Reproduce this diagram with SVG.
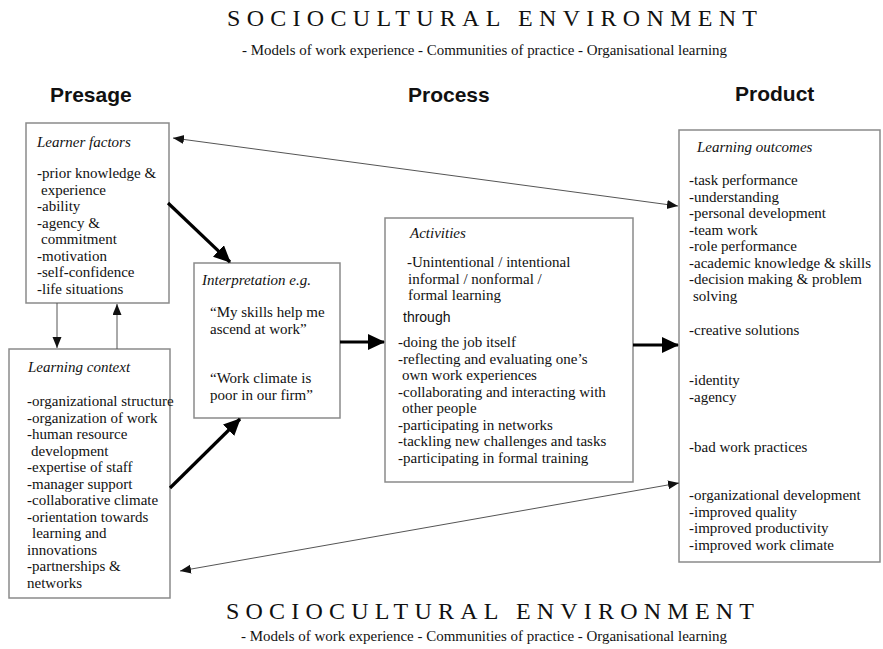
<svg xmlns="http://www.w3.org/2000/svg" width="883" height="649" viewBox="0 0 883 649">
<style>
.t{font-family:"Liberation Serif","Times New Roman",serif;font-size:15px;fill:#111}
.i{font-style:italic}
.h{font-family:"Liberation Sans",Arial,sans-serif;font-size:21px;font-weight:bold;fill:#111}
.s{font-family:"Liberation Sans",Arial,sans-serif;font-size:14px;fill:#111}
.ti{font-family:"Liberation Serif","Times New Roman",serif;font-size:24px;fill:#111}
.st{font-family:"Liberation Serif","Times New Roman",serif;font-size:14px;fill:#111}
.box{fill:#fff;stroke:#8a8a8a;stroke-width:1.5}
.thick{stroke:#000;stroke-width:3.2;fill:none;marker-end:url(#big)}
.thin{stroke:#555;stroke-width:1;fill:none;marker-end:url(#small);marker-start:url(#small)}
.vt{stroke:#555;stroke-width:1;fill:none;marker-end:url(#small)}
</style>
<defs>
<marker id="big" markerUnits="userSpaceOnUse" markerWidth="18" markerHeight="16" refX="16" refY="8" orient="auto">
<path d="M0,0 L17,8 L0,16 Z" fill="#000"/>
</marker>
<marker id="small" markerUnits="userSpaceOnUse" markerWidth="12" markerHeight="10" refX="11" refY="4.5" orient="auto-start-reverse">
<path d="M0,0 L11,4.5 L0,9 Z" fill="#111"/>
</marker>
</defs>

<g id="titles">
<text class="ti" x="227" y="26" textLength="530" lengthAdjust="spacing">SOCIOCULTURAL ENVIRONMENT</text>
<text class="st" x="242" y="55" textLength="485" lengthAdjust="spacingAndGlyphs">- Models of work experience - Communities of practice - Organisational learning</text>
<text class="h" x="50" y="102">Presage</text>
<text class="h" x="408" y="102">Process</text>
<text class="h" x="735" y="101">Product</text>
<text class="ti" x="226" y="619" textLength="528" lengthAdjust="spacing">SOCIOCULTURAL ENVIRONMENT</text>
<text class="st" x="241" y="641" textLength="486" lengthAdjust="spacingAndGlyphs">- Models of work experience - Communities of practice - Organisational learning</text>
</g>

<g id="learner-factors">
<rect class="box" x="26" y="123" width="143" height="180"/>
<text class="t i" x="37" y="147">Learner factors</text>
<text class="t" x="37" y="178">-prior knowledge &amp;</text>
<text class="t" x="41" y="194.5">experience</text>
<text class="t" x="37" y="211">-ability</text>
<text class="t" x="37" y="227.5">-agency &amp;</text>
<text class="t" x="41" y="244">commitment</text>
<text class="t" x="37" y="260.5">-motivation</text>
<text class="t" x="37" y="277">-self-confidence</text>
<text class="t" x="37" y="293.5">-life situations</text>
</g>

<g id="learning-context">
<rect class="box" x="9" y="349" width="161" height="249"/>
<text class="t i" x="28" y="372">Learning context</text>
<text class="t" x="27" y="406">-organizational structure</text>
<text class="t" x="27" y="422.5">-organization of work</text>
<text class="t" x="27" y="439">-human resource</text>
<text class="t" x="31" y="455.5">development</text>
<text class="t" x="27" y="472">-expertise of staff</text>
<text class="t" x="27" y="488.5">-manager support</text>
<text class="t" x="27" y="505">-collaborative climate</text>
<text class="t" x="27" y="521.5">-orientation towards</text>
<text class="t" x="32" y="538">learning and</text>
<text class="t" x="27" y="554.5">innovations</text>
<text class="t" x="27" y="571">-partnerships &amp;</text>
<text class="t" x="27" y="587.5">networks</text>
</g>

<g id="interpretation">
<rect class="box" x="194" y="263" width="146" height="155"/>
<text class="t i" x="202" y="285">Interpretation e.g.</text>
<text class="t" x="210" y="317">“My skills help me</text>
<text class="t" x="210" y="333.5">ascend at work”</text>
<text class="t" x="210" y="383">“Work climate is</text>
<text class="t" x="210" y="399.5">poor in our firm”</text>
</g>

<g id="activities">
<rect class="box" x="385" y="218" width="248" height="264"/>
<text class="t i" x="410" y="238">Activities</text>
<text class="t" x="407" y="267">-Unintentional / intentional</text>
<text class="t" x="408" y="283.5">informal / nonformal /</text>
<text class="t" x="408" y="300">formal learning</text>
<text class="s" x="403" y="322">through</text>
<text class="t" x="398" y="347">-doing the job itself</text>
<text class="t" x="398" y="363.5">-reflecting and evaluating one’s</text>
<text class="t" x="402" y="380">own work experiences</text>
<text class="t" x="398" y="396.5">-collaborating and interacting with</text>
<text class="t" x="402" y="413">other people</text>
<text class="t" x="398" y="429.5">-participating in networks</text>
<text class="t" x="398" y="446">-tackling new challenges and tasks</text>
<text class="t" x="398" y="462.5">-participating in formal training</text>
</g>

<g id="learning-outcomes">
<rect class="box" x="679" y="130" width="201" height="432"/>
<text class="t i" x="697" y="152">Learning outcomes</text>
<text class="t" x="689" y="185">-task performance</text>
<text class="t" x="689" y="201.5">-understanding</text>
<text class="t" x="689" y="218">-personal development</text>
<text class="t" x="689" y="234.5">-team work</text>
<text class="t" x="689" y="251">-role performance</text>
<text class="t" x="689" y="267.5">-academic knowledge &amp; skills</text>
<text class="t" x="689" y="284">-decision making &amp; problem</text>
<text class="t" x="693" y="300.5">solving</text>
<text class="t" x="689" y="335">-creative solutions</text>
<text class="t" x="689" y="385">-identity</text>
<text class="t" x="689" y="401.5">-agency</text>
<text class="t" x="689" y="452">-bad work practices</text>
<text class="t" x="689" y="500">-organizational development</text>
<text class="t" x="689" y="516.5">-improved quality</text>
<text class="t" x="689" y="533">-improved productivity</text>
<text class="t" x="689" y="549.5">-improved work climate</text>
</g>

<g id="connectors">
<line class="vt" x1="57" y1="303" x2="57" y2="348"/>
<line class="vt" x1="117" y1="349" x2="117" y2="304"/>
<line class="thick" x1="168" y1="203" x2="230" y2="262"/>
<line class="thick" x1="170" y1="488" x2="240" y2="419"/>
<line class="thick" x1="340" y1="342" x2="384" y2="342"/>
<line class="thick" x1="633" y1="345" x2="678" y2="345"/>
<line class="thin" x1="173" y1="138" x2="678" y2="206"/>
<line class="thin" x1="180" y1="571" x2="679" y2="483"/>
</g>
</svg>
